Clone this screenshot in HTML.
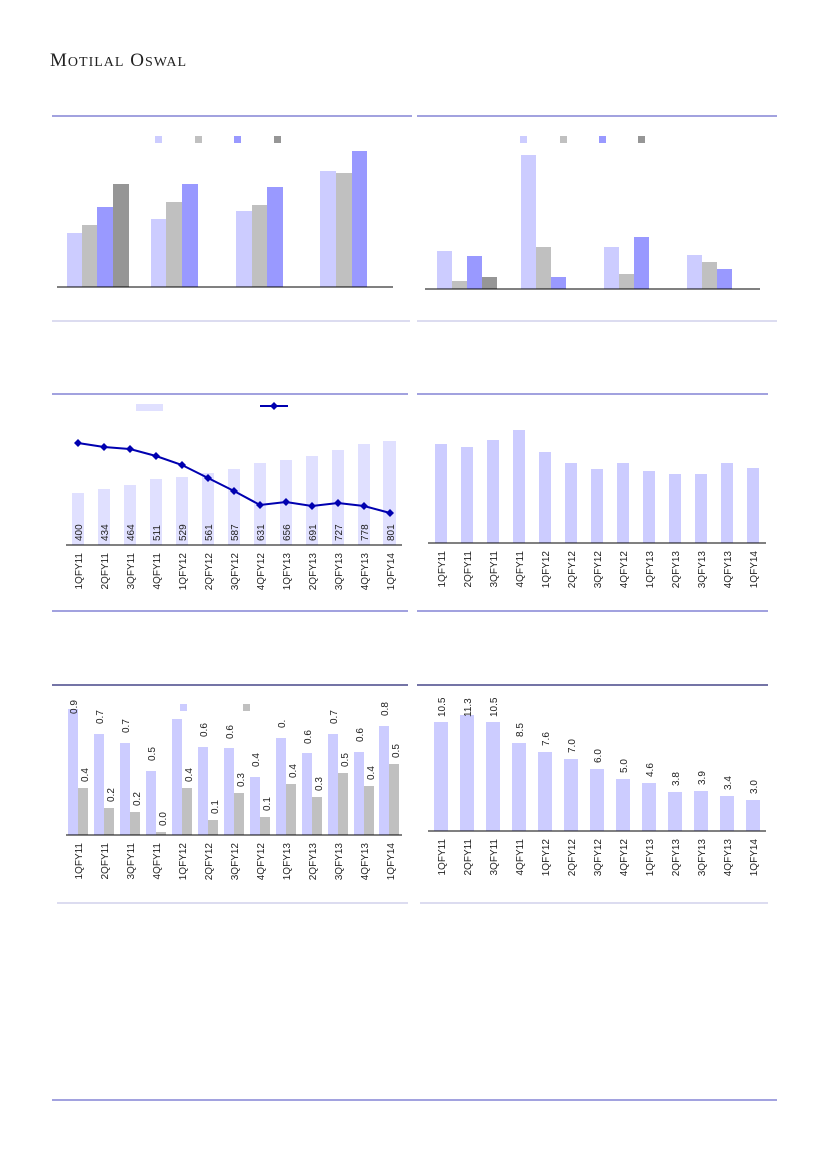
<!DOCTYPE html><html><head><style>body{margin:0;background:#fff}svg{display:block}text{font-family:"Liberation Sans",sans-serif;font-size:10px;fill:#222}</style></head><body>
<svg width="827" height="1169" xmlns="http://www.w3.org/2000/svg">
<text x="50" y="66" style="font-family:'Liberation Serif',serif;font-size:19px;letter-spacing:1px">M<tspan font-size="14">OTILAL</tspan> O<tspan font-size="14">SWAL</tspan></text>
<g stroke="#6a6acc" stroke-width="1.2">
<line x1="52" y1="116" x2="412" y2="116"/><line x1="417" y1="116" x2="777" y2="116"/>
<line x1="52" y1="394" x2="408" y2="394"/><line x1="417" y1="394" x2="768" y2="394"/>
<line x1="52" y1="611" x2="408" y2="611"/><line x1="417" y1="611" x2="768" y2="611"/>
<line x1="52" y1="1100" x2="777" y2="1100"/></g>
<g stroke="#c8c8e8" stroke-width="1.2"><line x1="52" y1="321" x2="410" y2="321"/><line x1="417" y1="321" x2="777" y2="321"/><line x1="57" y1="903" x2="408" y2="903"/><line x1="420" y1="903" x2="768" y2="903"/></g>
<g stroke="#202070" stroke-width="1.2"><line x1="52" y1="685" x2="408" y2="685"/><line x1="417" y1="685" x2="768" y2="685"/></g>
<!-- chart1 -->
<rect x="155" y="136" width="7" height="7" fill="#ccccff"/><rect x="195" y="136" width="7" height="7" fill="#c0c0c0"/><rect x="234" y="136" width="7" height="7" fill="#9999ff"/><rect x="274" y="136" width="7" height="7" fill="#969696"/>
<g>
<rect x="67" y="233" width="15" height="54" fill="#ccccff"/><rect x="82" y="225" width="15" height="62" fill="#c0c0c0"/><rect x="97" y="207" width="16" height="80" fill="#9999ff"/><rect x="113" y="184" width="16" height="103" fill="#969696"/>
<rect x="151" y="219" width="15" height="68" fill="#ccccff"/><rect x="166" y="202" width="16" height="85" fill="#c0c0c0"/><rect x="182" y="184" width="16" height="103" fill="#9999ff"/>
<rect x="236" y="211" width="16" height="76" fill="#ccccff"/><rect x="252" y="205" width="15" height="82" fill="#c0c0c0"/><rect x="267" y="187" width="16" height="100" fill="#9999ff"/>
<rect x="320" y="171" width="16" height="116" fill="#ccccff"/><rect x="336" y="173" width="16" height="114" fill="#c0c0c0"/><rect x="352" y="151" width="15" height="136" fill="#9999ff"/>
</g>
<line x1="57" y1="287" x2="393" y2="287" stroke="#000"/>
<!-- chart2 -->
<rect x="520" y="136" width="7" height="7" fill="#ccccff"/><rect x="560" y="136" width="7" height="7" fill="#c0c0c0"/><rect x="599" y="136" width="7" height="7" fill="#9999ff"/><rect x="638" y="136" width="7" height="7" fill="#969696"/>
<rect x="437" y="251" width="15" height="38" fill="#ccccff"/><rect x="452" y="281" width="15" height="8" fill="#c0c0c0"/><rect x="467" y="256" width="15" height="33" fill="#9999ff"/><rect x="482" y="277" width="15" height="12" fill="#969696"/>
<rect x="521" y="155" width="15" height="134" fill="#ccccff"/><rect x="536" y="247" width="15" height="42" fill="#c0c0c0"/><rect x="551" y="277" width="15" height="12" fill="#9999ff"/>
<rect x="604" y="247" width="15" height="42" fill="#ccccff"/><rect x="619" y="274" width="15" height="15" fill="#c0c0c0"/><rect x="634" y="237" width="15" height="52" fill="#9999ff"/>
<rect x="687" y="255" width="15" height="34" fill="#ccccff"/><rect x="702" y="262" width="15" height="27" fill="#c0c0c0"/><rect x="717" y="269" width="15" height="20" fill="#9999ff"/>
<line x1="425" y1="289" x2="760" y2="289" stroke="#000"/>
<!-- chart3 -->
<rect x="136" y="404" width="27" height="7" fill="#e0e0ff"/>
<line x1="260" y1="406" x2="288" y2="406" stroke="#0000b0" stroke-width="2"/><path d="M274 402l4 4-4 4-4-4z" fill="#0000b0"/>
<g fill="#e0e0ff">
<rect x="72" y="493" width="12" height="52"/><rect x="98" y="489" width="12" height="56"/><rect x="124" y="485" width="12" height="60"/><rect x="150" y="479" width="12" height="66"/><rect x="176" y="477" width="12" height="68"/><rect x="202" y="473" width="12" height="72"/><rect x="228" y="469" width="12" height="76"/><rect x="254" y="463" width="12" height="82"/><rect x="280" y="460" width="12" height="85"/><rect x="306" y="456" width="12" height="89"/><rect x="332" y="450" width="12" height="95"/><rect x="358" y="444" width="12" height="101"/><rect x="383" y="441" width="13" height="104"/></g>
<polyline points="78,443 104,447 130,449 156,456 182,465 208,478 234,491 260,505 286,502 312,506 338,503 364,506 390,513" fill="none" stroke="#0000b0" stroke-width="2"/>
<g fill="#0000b0"><path d="M78 439l4 4-4 4-4-4zM104 443l4 4-4 4-4-4zM130 445l4 4-4 4-4-4zM156 452l4 4-4 4-4-4zM182 461l4 4-4 4-4-4zM208 474l4 4-4 4-4-4zM234 487l4 4-4 4-4-4zM260 501l4 4-4 4-4-4zM286 498l4 4-4 4-4-4zM312 502l4 4-4 4-4-4zM338 499l4 4-4 4-4-4zM364 502l4 4-4 4-4-4zM390 509l4 4-4 4-4-4z"/></g>
<line x1="66" y1="545" x2="402" y2="545" stroke="#000"/>
<g>
<text transform="translate(82,541) rotate(-90)">400</text><text transform="translate(108,541) rotate(-90)">434</text><text transform="translate(134,541) rotate(-90)">464</text><text transform="translate(160,541) rotate(-90)">511</text><text transform="translate(186,541) rotate(-90)">529</text><text transform="translate(212,541) rotate(-90)">561</text><text transform="translate(238,541) rotate(-90)">587</text><text transform="translate(264,541) rotate(-90)">631</text><text transform="translate(290,541) rotate(-90)">656</text><text transform="translate(316,541) rotate(-90)">691</text><text transform="translate(342,541) rotate(-90)">727</text><text transform="translate(368,541) rotate(-90)">778</text><text transform="translate(394,541) rotate(-90)">801</text></g>
<g text-anchor="end">
<text transform="translate(82,553) rotate(-90)">1QFY11</text><text transform="translate(108,553) rotate(-90)">2QFY11</text><text transform="translate(134,553) rotate(-90)">3QFY11</text><text transform="translate(160,553) rotate(-90)">4QFY11</text><text transform="translate(186,553) rotate(-90)">1QFY12</text><text transform="translate(212,553) rotate(-90)">2QFY12</text><text transform="translate(238,553) rotate(-90)">3QFY12</text><text transform="translate(264,553) rotate(-90)">4QFY12</text><text transform="translate(290,553) rotate(-90)">1QFY13</text><text transform="translate(316,553) rotate(-90)">2QFY13</text><text transform="translate(342,553) rotate(-90)">3QFY13</text><text transform="translate(368,553) rotate(-90)">4QFY13</text><text transform="translate(394,553) rotate(-90)">1QFY14</text></g>
<!-- chart4 -->
<g fill="#ccccff">
<rect x="435" y="444" width="12" height="99"/><rect x="461" y="447" width="12" height="96"/><rect x="487" y="440" width="12" height="103"/><rect x="513" y="430" width="12" height="113"/><rect x="539" y="452" width="12" height="91"/><rect x="565" y="463" width="12" height="80"/><rect x="591" y="469" width="12" height="74"/><rect x="617" y="463" width="12" height="80"/><rect x="643" y="471" width="12" height="72"/><rect x="669" y="474" width="12" height="69"/><rect x="695" y="474" width="12" height="69"/><rect x="721" y="463" width="12" height="80"/><rect x="747" y="468" width="12" height="75"/></g>
<line x1="428" y1="543" x2="766" y2="543" stroke="#000"/>
<g text-anchor="end">
<text transform="translate(445,551) rotate(-90)">1QFY11</text><text transform="translate(471,551) rotate(-90)">2QFY11</text><text transform="translate(497,551) rotate(-90)">3QFY11</text><text transform="translate(523,551) rotate(-90)">4QFY11</text><text transform="translate(549,551) rotate(-90)">1QFY12</text><text transform="translate(575,551) rotate(-90)">2QFY12</text><text transform="translate(601,551) rotate(-90)">3QFY12</text><text transform="translate(627,551) rotate(-90)">4QFY12</text><text transform="translate(653,551) rotate(-90)">1QFY13</text><text transform="translate(679,551) rotate(-90)">2QFY13</text><text transform="translate(705,551) rotate(-90)">3QFY13</text><text transform="translate(731,551) rotate(-90)">4QFY13</text><text transform="translate(757,551) rotate(-90)">1QFY14</text></g>
<!-- chart5 -->
<rect x="180" y="704" width="7" height="7" fill="#ccccff"/><rect x="243" y="704" width="7" height="7" fill="#c0c0c0"/>
<g fill="#ccccff">
<rect x="68" y="709" width="10" height="126"/><rect x="94" y="734" width="10" height="101"/><rect x="120" y="743" width="10" height="92"/><rect x="146" y="771" width="10" height="64"/><rect x="172" y="719" width="10" height="116"/><rect x="198" y="747" width="10" height="88"/><rect x="224" y="748" width="10" height="87"/><rect x="250" y="777" width="10" height="58"/><rect x="276" y="738" width="10" height="97"/><rect x="302" y="753" width="10" height="82"/><rect x="328" y="734" width="10" height="101"/><rect x="354" y="752" width="10" height="83"/><rect x="379" y="726" width="10" height="109"/></g>
<g fill="#c0c0c0">
<rect x="78" y="788" width="10" height="47"/><rect x="104" y="808" width="10" height="27"/><rect x="130" y="812" width="10" height="23"/><rect x="156" y="832" width="10" height="3"/><rect x="182" y="788" width="10" height="47"/><rect x="208" y="820" width="10" height="15"/><rect x="234" y="793" width="10" height="42"/><rect x="260" y="817" width="10" height="18"/><rect x="286" y="784" width="10" height="51"/><rect x="312" y="797" width="10" height="38"/><rect x="338" y="773" width="10" height="62"/><rect x="364" y="786" width="10" height="49"/><rect x="389" y="764" width="10" height="71"/></g>
<line x1="66" y1="835" x2="402" y2="835" stroke="#000"/>
<g>
<text transform="translate(77,714) rotate(-90)">0.9</text><text transform="translate(103,724) rotate(-90)">0.7</text><text transform="translate(129,733) rotate(-90)">0.7</text><text transform="translate(155,761) rotate(-90)">0.5</text><text transform="translate(207,737) rotate(-90)">0.6</text><text transform="translate(233,739) rotate(-90)">0.6</text><text transform="translate(259,767) rotate(-90)">0.4</text><text transform="translate(285,728) rotate(-90)">0.</text><text transform="translate(311,744) rotate(-90)">0.6</text><text transform="translate(337,724) rotate(-90)">0.7</text><text transform="translate(363,742) rotate(-90)">0.6</text><text transform="translate(388,716) rotate(-90)">0.8</text>
<text transform="translate(88,782) rotate(-90)">0.4</text><text transform="translate(114,802) rotate(-90)">0.2</text><text transform="translate(140,806) rotate(-90)">0.2</text><text transform="translate(166,826) rotate(-90)">0.0</text><text transform="translate(192,782) rotate(-90)">0.4</text><text transform="translate(218,814) rotate(-90)">0.1</text><text transform="translate(244,787) rotate(-90)">0.3</text><text transform="translate(270,811) rotate(-90)">0.1</text><text transform="translate(296,778) rotate(-90)">0.4</text><text transform="translate(322,791) rotate(-90)">0.3</text><text transform="translate(348,767) rotate(-90)">0.5</text><text transform="translate(374,780) rotate(-90)">0.4</text><text transform="translate(399,758) rotate(-90)">0.5</text></g>
<g text-anchor="end">
<text transform="translate(82,843) rotate(-90)">1QFY11</text><text transform="translate(108,843) rotate(-90)">2QFY11</text><text transform="translate(134,843) rotate(-90)">3QFY11</text><text transform="translate(160,843) rotate(-90)">4QFY11</text><text transform="translate(186,843) rotate(-90)">1QFY12</text><text transform="translate(212,843) rotate(-90)">2QFY12</text><text transform="translate(238,843) rotate(-90)">3QFY12</text><text transform="translate(264,843) rotate(-90)">4QFY12</text><text transform="translate(290,843) rotate(-90)">1QFY13</text><text transform="translate(316,843) rotate(-90)">2QFY13</text><text transform="translate(342,843) rotate(-90)">3QFY13</text><text transform="translate(368,843) rotate(-90)">4QFY13</text><text transform="translate(394,843) rotate(-90)">1QFY14</text></g>
<!-- chart6 -->
<g fill="#ccccff">
<rect x="434" y="722" width="14" height="109"/><rect x="460" y="715" width="14" height="116"/><rect x="486" y="722" width="14" height="109"/><rect x="512" y="743" width="14" height="88"/><rect x="538" y="752" width="14" height="79"/><rect x="564" y="759" width="14" height="72"/><rect x="590" y="769" width="14" height="62"/><rect x="616" y="779" width="14" height="52"/><rect x="642" y="783" width="14" height="48"/><rect x="668" y="792" width="14" height="39"/><rect x="694" y="791" width="14" height="40"/><rect x="720" y="796" width="14" height="35"/><rect x="746" y="800" width="14" height="31"/></g>
<line x1="428" y1="831" x2="766" y2="831" stroke="#000"/>
<g>
<text transform="translate(445,717) rotate(-90)">10.5</text><text transform="translate(471,717) rotate(-90)">11.3</text><text transform="translate(497,717) rotate(-90)">10.5</text><text transform="translate(523,737) rotate(-90)">8.5</text><text transform="translate(549,746) rotate(-90)">7.6</text><text transform="translate(575,753) rotate(-90)">7.0</text><text transform="translate(601,763) rotate(-90)">6.0</text><text transform="translate(627,773) rotate(-90)">5.0</text><text transform="translate(653,777) rotate(-90)">4.6</text><text transform="translate(679,786) rotate(-90)">3.8</text><text transform="translate(705,785) rotate(-90)">3.9</text><text transform="translate(731,790) rotate(-90)">3.4</text><text transform="translate(757,794) rotate(-90)">3.0</text></g>
<g text-anchor="end">
<text transform="translate(445,839) rotate(-90)">1QFY11</text><text transform="translate(471,839) rotate(-90)">2QFY11</text><text transform="translate(497,839) rotate(-90)">3QFY11</text><text transform="translate(523,839) rotate(-90)">4QFY11</text><text transform="translate(549,839) rotate(-90)">1QFY12</text><text transform="translate(575,839) rotate(-90)">2QFY12</text><text transform="translate(601,839) rotate(-90)">3QFY12</text><text transform="translate(627,839) rotate(-90)">4QFY12</text><text transform="translate(653,839) rotate(-90)">1QFY13</text><text transform="translate(679,839) rotate(-90)">2QFY13</text><text transform="translate(705,839) rotate(-90)">3QFY13</text><text transform="translate(731,839) rotate(-90)">4QFY13</text><text transform="translate(757,839) rotate(-90)">1QFY14</text></g>
</svg></body></html>
